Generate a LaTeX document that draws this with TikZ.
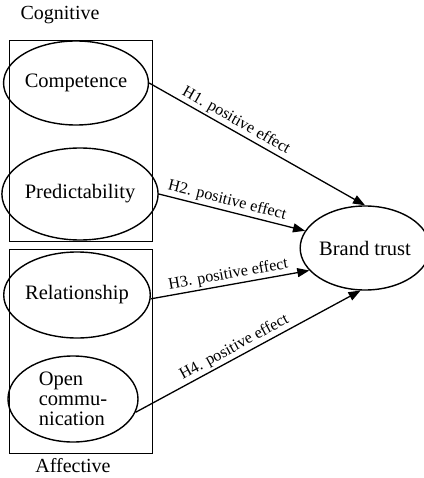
\documentclass[tikz,border=0pt]{standalone}
\usepackage{fontspec}
\setmainfont{Liberation Serif}
\usetikzlibrary{shapes.geometric,arrows.meta}
\begin{document}
\begin{tikzpicture}[x=1pt,y=-1pt,
  construct/.style={draw,ellipse,line width=1.4pt,inner sep=0pt,font=\fontsize{20.5}{20}\selectfont,align=center},
  groupbox/.style={draw,line width=1.4pt,inner sep=0pt,anchor=north west},
  hyp/.style={draw,line width=1.3pt,-{Triangle[length=12pt,width=9pt]}},
  hlabel/.style={sloped,above,inner sep=2pt,font=\fontsize{16.2}{16}\selectfont},
  grouplabel/.style={font=\fontsize{20}{20}\selectfont}]
\useasboundingbox (0,0) rectangle (423,478);
\node[grouplabel] (cog) at (60,15) {Cognitive};
\node[grouplabel] (aff) at (73,466) {Affective};
\node[groupbox,minimum width=143pt,minimum height=201pt] (cogbox) at (9,40) {};
\node[groupbox,minimum width=143pt,minimum height=204pt] (affbox) at (9,249) {};
\node[construct,minimum width=124pt,minimum height=84pt] (comp) at (76,83) {Competence};
\node[construct,minimum width=124pt,minimum height=92pt] (pred) at (80,194) {Predictability};
\node[construct,minimum width=124pt,minimum height=86pt] (rel) at (77,295) {Relationship};
\node[construct,minimum width=130pt,minimum height=86pt,align=left] (oc) at (73,399) {Open\\commu-\\nication};
\node[construct,minimum width=116pt,minimum height=84pt] (bt) at (365,248) {Brand trust};
\draw[hyp] (comp.east) -- node[hlabel,pos=0.38] {H1. positive effect} (bt.north);
\draw[hyp] (pred.east) -- node[hlabel,pos=0.45] {H2. positive effect} (bt.164);
\draw[hyp] (rel.-3) -- node[hlabel,pos=0.5] {H3. positive effect} (bt.202);
\draw[hyp] (oc.-12) -- node[hlabel,pos=0.46] {H4. positive effect} (bt.264);
\end{tikzpicture}
\end{document}
